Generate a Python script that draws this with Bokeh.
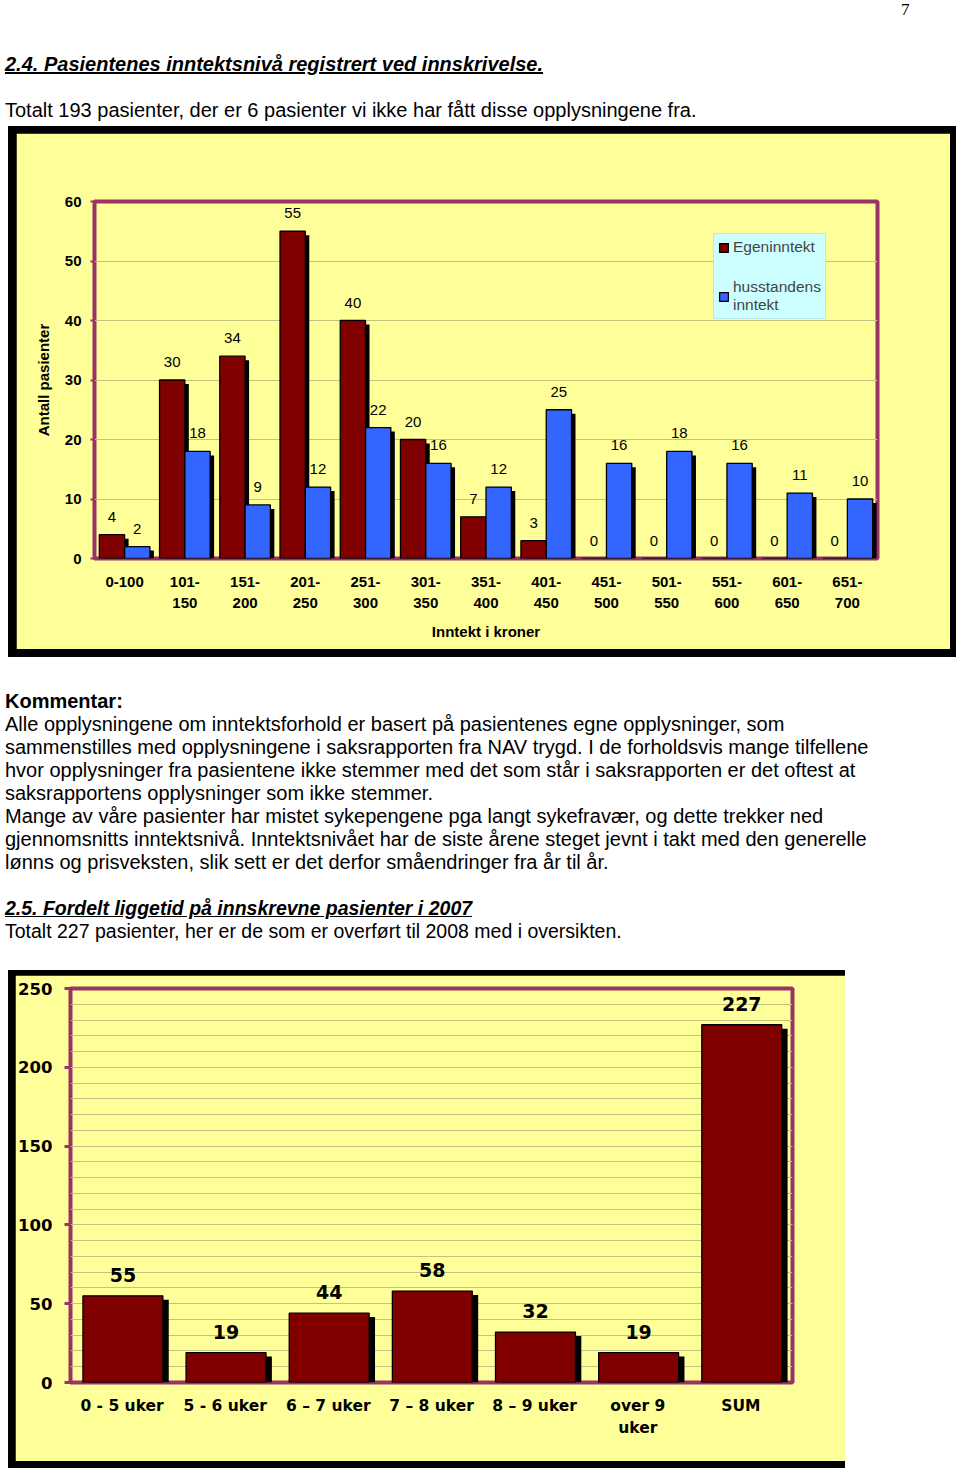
from bokeh.plotting import figure
from bokeh.models import (ColumnDataSource, FactorRange, Range1d, SingleIntervalTicker,
                          Div, Legend, LegendItem, Label, LabelSet)
from bokeh.layouts import column
from bokeh.transform import dodge
from bokeh.embed import file_html
from bokeh.resources import INLINE
from bokeh.core.properties import value

# ---------------- data ----------------
income_cats = ["0-100", "101-\n150", "151-\n200", "201-\n250", "251-\n300", "301-\n350",
               "351-\n400", "401-\n450", "451-\n500", "501-\n550", "551-\n600", "601-\n650",
               "651-\n700"]
egeninntekt = [4, 30, 34, 55, 40, 20, 7, 3, 0, 0, 0, 0, 0]
husstandens = [2, 18, 9, 12, 22, 16, 12, 25, 16, 18, 16, 11, 10]

stay_cats = ["0 - 5 uker", "5 - 6 uker", "6 \u2013 7 uker", "7 \u2013 8 uker", "8 \u2013 9 uker",
             "over 9\nuker", "SUM"]
stay_vals = [55, 19, 44, 58, 32, 19, 227]

# ---------------- styles ----------------
YEL = "#FFFF99"
MAROON = "#800000"
BLUE = "#3366FF"
FRAME = "#993366"
GRID = "#C2C283"
SANS = "Liberation Sans"
WIDE = "DejaVu Sans"

# ---------------- chart 1 ----------------
p1 = figure(width=934, height=516, x_range=FactorRange(*income_cats, range_padding=0),
            y_range=Range1d(0, 60), output_backend="svg", toolbar_location=None,
            min_border_left=78, min_border_right=73, min_border_top=68, min_border_bottom=91,
            background_fill_color=YEL, border_fill_color=YEL,
            outline_line_color=FRAME, outline_line_width=4, margin=(7, 6, 8, 8))

src1 = ColumnDataSource(dict(
    cat=income_cats, egen=egeninntekt, huss=husstandens,
    egen_sh=[v - 0.67 for v in egeninntekt], huss_sh=[v - 0.67 for v in husstandens],
    egen_t=[str(v) for v in egeninntekt], huss_t=[str(v) for v in husstandens]))

W1 = 0.42
OFF1 = 0.21
SHX1 = 0.066
p1.vbar(x=dodge("cat", -OFF1 + SHX1, range=p1.x_range), top="egen_sh", width=W1,
        fill_color="black", line_color=None, source=src1)
r_e = p1.vbar(x=dodge("cat", -OFF1, range=p1.x_range), top="egen", width=W1,
              fill_color=MAROON, line_color="black", line_width=1.3, source=src1)
p1.vbar(x=dodge("cat", OFF1 + SHX1, range=p1.x_range), top="huss_sh", width=W1,
        fill_color="black", line_color=None, source=src1)
r_h = p1.vbar(x=dodge("cat", OFF1, range=p1.x_range), top="huss", width=W1,
              fill_color=BLUE, line_color="black", line_width=1.3, source=src1)

for col, ycol, off in (("egen_t", "egen", -OFF1), ("huss_t", "huss", OFF1)):
    p1.add_layout(LabelSet(x=dodge("cat", off, range=p1.x_range), y=ycol, text=col,
                           y_offset=18, text_align="center", text_baseline="middle",
                           text_font=value(SANS), text_font_size="15px", text_color="black",
                           source=src1))

p1.yaxis.ticker = SingleIntervalTicker(interval=10)
p1.ygrid.ticker = SingleIntervalTicker(interval=10)
p1.ygrid.grid_line_color = GRID
p1.xgrid.grid_line_color = None
for ax in (p1.xaxis[0], p1.yaxis[0]):
    ax.axis_line_color = None
    ax.major_label_text_font = SANS
    ax.major_label_text_font_size = "15px"
    ax.major_label_text_font_style = "bold"
    ax.major_label_text_color = "black"
    ax.axis_label_text_font = SANS
    ax.axis_label_text_font_size = "15px"
    ax.axis_label_text_font_style = "bold"
    ax.axis_label_text_color = "black"
    ax.minor_tick_line_color = None
p1.yaxis.major_tick_line_color = FRAME
p1.yaxis.major_tick_line_width = 2
p1.yaxis.major_tick_out = 4
p1.yaxis.major_tick_in = 0
p1.yaxis.major_label_standoff = 9
p1.yaxis.axis_label = "Antall pasienter"
p1.yaxis.axis_label_standoff = 10
p1.xaxis.major_tick_line_color = None
p1.xaxis.major_tick_out = 0
p1.xaxis.major_tick_in = 0
p1.xaxis.major_label_standoff = 14
p1.xaxis.major_label_text_line_height = 1.28
p1.xaxis.axis_label = "Inntekt i kroner"
p1.xaxis.axis_label_standoff = 9

p1.add_layout(Label(x=6.5, y=68.1, text="Pasientenes innteksniv\u00e5", text_align="center",
                    text_baseline="middle", text_font=SANS, text_font_size="15px",
                    text_font_style="bold", text_color="black"))

legend = Legend(items=[LegendItem(label="Egeninntekt", renderers=[r_e]),
                       LegendItem(label="husstandens\ninntekt", renderers=[r_h])],
                location=(619, 239), padding=4, spacing=22, margin=0,
                glyph_width=11, glyph_height=11, label_standoff=4,
                label_text_font=SANS, label_text_font_size="15.5px",
                background_fill_color="#CCFFFF", background_fill_alpha=1.0,
                border_line_color="#A8D0D0", border_line_width=1)
p1.add_layout(legend)

box1 = column(p1, styles={"background-color": "black"}, margin=0, spacing=0)

# ---------------- chart 2 ----------------
p2 = figure(width=830, height=486, x_range=FactorRange(*stay_cats, range_padding=0),
            y_range=Range1d(0, 250), output_backend="svg", toolbar_location=None,
            min_border_left=54, min_border_right=53, min_border_top=13, min_border_bottom=79,
            background_fill_color=YEL, border_fill_color=YEL,
            outline_line_color=FRAME, outline_line_width=4, margin=(5, 0, 7, 7))

src2 = ColumnDataSource(dict(cat=stay_cats, val=stay_vals,
                             val_sh=[v - 2.5 for v in stay_vals],
                             val_t=[str(v) for v in stay_vals]))
W2 = 0.775
p2.vbar(x=dodge("cat", 0.065, range=p2.x_range), top="val_sh", width=W2,
        fill_color="black", line_color=None, source=src2)
p2.vbar(x=dodge("cat", 0.008, range=p2.x_range), top="val", width=W2,
        fill_color=MAROON, line_color="black", line_width=1.3, source=src2)
p2.add_layout(LabelSet(x=dodge("cat", 0.008, range=p2.x_range), y="val", text="val_t",
                       y_offset=21, text_align="center", text_baseline="middle",
                       text_font=value(WIDE), text_font_size="19px", text_font_style="bold",
                       text_color="black", source=src2))

p2.yaxis.ticker = SingleIntervalTicker(interval=50, num_minor_ticks=5)
p2.ygrid.ticker = SingleIntervalTicker(interval=50, num_minor_ticks=5)
p2.ygrid.grid_line_color = GRID
p2.ygrid.minor_grid_line_color = GRID
p2.xgrid.grid_line_color = None
for ax in (p2.xaxis[0], p2.yaxis[0]):
    ax.axis_line_color = None
    ax.major_label_text_font = WIDE
    ax.major_label_text_font_style = "bold"
    ax.major_label_text_color = "black"
    ax.minor_tick_line_color = None
p2.yaxis.major_label_text_font_size = "16.5px"
p2.xaxis.major_label_text_font_size = "15.5px"
p2.yaxis.major_tick_line_color = FRAME
p2.yaxis.major_tick_line_width = 3
p2.yaxis.major_tick_out = 6
p2.yaxis.major_tick_in = 0
p2.yaxis.major_label_standoff = 12
p2.xaxis.major_tick_line_color = None
p2.xaxis.major_tick_out = 0
p2.xaxis.major_tick_in = 0
p2.xaxis.major_label_standoff = 14
p2.xaxis.major_label_text_line_height = 1.24

box2 = column(p2, styles={"background-color": "black"}, margin=0, spacing=0)

# ---------------- text blocks ----------------
top_html = """
<div style="position:relative;width:944px;height:118px;font-family:'Liberation Sans',Arial,sans-serif;color:#000;">
 <div style="position:absolute;left:893px;top:-8px;font-family:'Liberation Serif','Times New Roman',serif;font-size:17px;line-height:20px;">7</div>
 <div style="position:absolute;left:-3px;top:45px;font-size:20px;line-height:22px;font-weight:bold;font-style:italic;text-decoration:underline;white-space:nowrap;">2.4. Pasientenes inntektsniv\u00e5 registrert ved innskrivelse.</div>
 <div style="position:absolute;left:-3px;top:91px;font-size:20px;line-height:22px;white-space:nowrap;">Totalt 193 pasienter, der er 6 pasienter vi ikke har f\u00e5tt disse opplysningene fra.</div>
</div>
"""
top_div = Div(text=top_html, width=944, height=118, margin=0)

comment_lines = [
    "Alle opplysningene om inntektsforhold er basert p\u00e5 pasientenes egne opplysninger, som",
    "sammenstilles med opplysningene i saksrapporten fra NAV trygd. I de forholdsvis mange tilfellene",
    "hvor opplysninger fra pasientene ikke stemmer med det som st\u00e5r i saksrapporten er det oftest at",
    "saksrapportens opplysninger som ikke stemmer.",
    "Mange av v\u00e5re pasienter har mistet sykepengene pga langt sykefrav\u00e6r, og dette trekker ned",
    "gjennomsnitts inntektsniv\u00e5. Inntektsniv\u00e5et har de siste \u00e5rene steget jevnt i takt med den generelle",
    "l\u00f8nns og prisveksten, slik sett er det derfor sm\u00e5endringer fra \u00e5r til \u00e5r.",
]
mid_html = (
    "<div style=\"position:relative;left:-3px;width:947px;height:313px;padding-top:33px;box-sizing:border-box;"
    "font-family:'Liberation Sans',Arial,sans-serif;font-size:20px;line-height:23px;color:#000;white-space:nowrap;\">"
    "<div style=\"font-weight:bold;\">Kommentar:</div>"
    + "".join("<div>%s</div>" % t for t in comment_lines)
    + "<div>&nbsp;</div>"
    "<div style=\"font-weight:bold;font-style:italic;text-decoration:underline;font-size:19.5px;\">2.5. Fordelt liggetid p\u00e5 innskrevne pasienter i 2007</div>"
    "<div style=\"font-size:19.5px;\">Totalt 227 pasienter, her er de som er overf\u00f8rt til 2008 med i oversikten.</div>"
    "</div>"
)
mid_div = Div(text=mid_html, width=944, height=313, margin=0)

page = column(top_div, box1, mid_div, box2, spacing=0, margin=(8, 0, 0, 8))

open("out.html", "w").write(file_html(page, INLINE))
